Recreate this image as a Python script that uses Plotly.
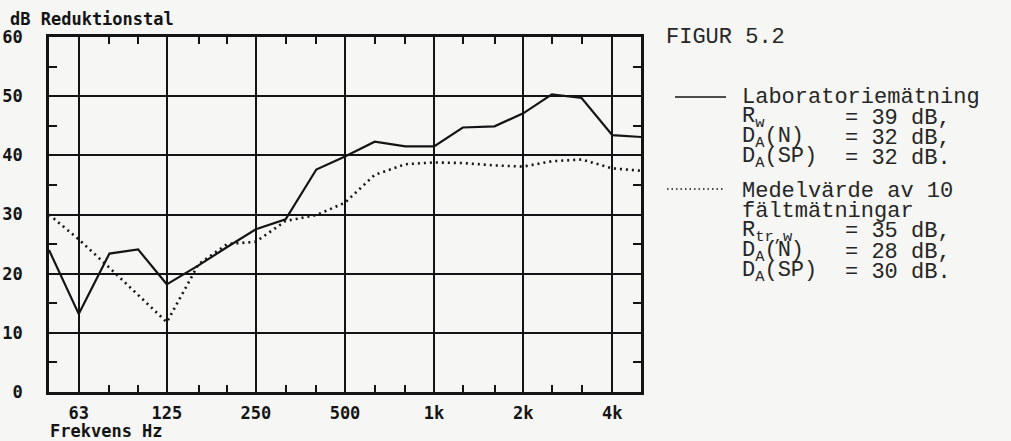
import numpy as np
import plotly.graph_objects as go

# Third-octave band centre frequencies (Hz)
freq_hz = [50, 63, 80, 100, 125, 160, 200, 250, 315, 400, 500,
           630, 800, 1000, 1250, 1600, 2000, 2500, 3150, 4000, 5000]

# Reduktionstal R (dB): laboratory measurement
lab_db = [24.0, 13.2, 23.4, 24.1, 18.2, 21.4, 24.5, 27.5, 29.2, 37.6, 39.8,
          42.3, 41.5, 41.5, 44.7, 44.9, 47.1, 50.3, 49.7, 43.4, 43.1]

# Mean of 10 field measurements (dB)
field_db = [30.0, 25.8, 21.0, 16.4, 11.8, 21.6, 25.0, 25.4, 28.9, 29.9, 32.0,
            36.7, 38.5, 38.8, 38.7, 38.3, 38.1, 39.0, 39.3, 37.8, 37.4]

octave_ticks = [63, 125, 250, 500, 1000, 2000, 4000]
octave_labels = ["63", "125", "250", "500", "1k", "2k", "4k"]
third_ticks = [80, 100, 160, 200, 315, 400, 630, 800, 1250, 1600, 2500, 3150]
db_ticks = [0, 10, 20, 30, 40, 50, 60]
db_half_ticks = [5, 15, 25, 35, 45, 55]

# Legend text blocks (label part, value part)
lab_lines = [("R<sub>w</sub>", "= 39 dB,"),
             ("D<sub>A</sub>(N)", "= 32 dB,"),
             ("D<sub>A</sub>(SP)", "= 32 dB.")]
field_lines = [("R<sub>tr,w</sub>", "= 35 dB,"),
               ("D<sub>A</sub>(N)", "= 28 dB,"),
               ("D<sub>A</sub>(SP)", "= 30 dB.")]

INK = "#141414"
BG = "#f6f6f4"
PLOT_FONT = dict(family="DejaVu Sans Mono", size=17, color=INK, weight="bold")
TYPE_FONT = dict(family="Liberation Mono", size=22, color="#262626")

W, H = 1011, 441
L, R, T, B = 49, 370, 37, 49
PW, PH = W - L - R, H - T - B


def px(xp):
    return (xp - L) / PW


def py(yp):
    return (H - B - yp) / PH


fig = go.Figure()
fig.add_trace(go.Scatter(x=freq_hz, y=lab_db, mode="lines",
                         line=dict(color=INK, width=2.2),
                         name="Laboratoriemätning", hoverinfo="skip"))
fig.add_trace(go.Scatter(x=freq_hz, y=field_db, mode="lines",
                         line=dict(color=INK, width=2.6, dash="2px,4px"),
                         name="Medelvärde av 10 fältmätningar", hoverinfo="skip"))
# carrier for the top/right tick axes
fig.add_trace(go.Scatter(x=[], y=[], xaxis="x2", yaxis="y2", hoverinfo="skip"))

xrange = [np.log10(freq_hz[0]), np.log10(freq_hz[-1])]

fig.update_layout(
    width=W, height=H,
    margin=dict(l=L, r=R, t=T, b=B, pad=0, autoexpand=False),
    paper_bgcolor=BG, plot_bgcolor=BG,
    showlegend=False,
    xaxis=dict(type="log", range=xrange, tickmode="array",
               tickvals=octave_ticks, ticktext=octave_labels,
               ticks="", ticklabelstandoff=4, tickfont=PLOT_FONT,
               automargin=False,
               showgrid=True, gridcolor=INK, gridwidth=1.8,
               showline=True, mirror=True, linecolor=INK, linewidth=2.5,
               zeroline=False,
               minor=dict(tickmode="array", tickvals=third_ticks,
                          ticks="inside", ticklen=7, tickwidth=2,
                          tickcolor=INK, showgrid=False)),
    yaxis=dict(range=[0, 60], tickmode="array", tickvals=db_ticks,
               ticks="", ticklabelstandoff=20, tickfont=PLOT_FONT,
               automargin=False,
               showgrid=True, gridcolor=INK, gridwidth=1.8,
               showline=True, mirror=True, linecolor=INK, linewidth=2.5,
               zeroline=False,
               minor=dict(tickmode="array", tickvals=db_half_ticks,
                          ticks="inside", ticklen=8, tickwidth=2,
                          tickcolor=INK, showgrid=False)),
    xaxis2=dict(type="log", range=xrange, overlaying="x", side="top",
                anchor="y2", tickmode="array", tickvals=third_ticks,
                ticks="inside", ticklen=7, tickwidth=2, tickcolor=INK,
                showticklabels=False, showgrid=False, showline=False,
                zeroline=False, automargin=False),
    yaxis2=dict(range=[0, 60], overlaying="y", side="right", anchor="x2",
                tickmode="array", tickvals=db_half_ticks,
                ticks="inside", ticklen=8, tickwidth=2, tickcolor=INK,
                showticklabels=False, showgrid=False, showline=False,
                zeroline=False, automargin=False),
)

ann = []
# axis titles in plotter lettering
ann.append(dict(text="dB Reduktionstal", x=px(8), y=py(19), xref="paper",
                yref="paper", xanchor="left", yanchor="middle",
                showarrow=False, font=PLOT_FONT))
ann.append(dict(text="Frekvens Hz", x=px(48), y=py(431), xref="paper",
                yref="paper", xanchor="left", yanchor="middle",
                showarrow=False, font=PLOT_FONT))

# typewritten key
COL0 = 740
EQ_COL = 843
ann.append(dict(text="FIGUR 5.2", x=px(664), y=py(37), xref="paper",
                yref="paper", xanchor="left", yanchor="middle",
                showarrow=False, font=TYPE_FONT))
ann.append(dict(text="Laboratoriemätning", x=px(COL0), y=py(97),
                xref="paper", yref="paper", xanchor="left",
                yanchor="middle", showarrow=False, font=TYPE_FONT))
for i, (lbl, val) in enumerate(lab_lines):
    yc = 118 + 20 * i
    ann.append(dict(text=lbl, x=px(COL0), y=py(yc), xref="paper",
                    yref="paper", xanchor="left", yanchor="middle",
                    showarrow=False, font=TYPE_FONT))
    ann.append(dict(text=val, x=px(EQ_COL), y=py(yc), xref="paper",
                    yref="paper", xanchor="left", yanchor="middle",
                    showarrow=False, font=TYPE_FONT))

ann.append(dict(text="Medelvärde av 10", x=px(COL0), y=py(191),
                xref="paper", yref="paper", xanchor="left",
                yanchor="middle", showarrow=False, font=TYPE_FONT))
ann.append(dict(text="fältmätningar", x=px(COL0), y=py(211),
                xref="paper", yref="paper", xanchor="left",
                yanchor="middle", showarrow=False, font=TYPE_FONT))
for i, (lbl, val) in enumerate(field_lines):
    yc = 232 + 20 * i
    ann.append(dict(text=lbl, x=px(COL0), y=py(yc), xref="paper",
                    yref="paper", xanchor="left", yanchor="middle",
                    showarrow=False, font=TYPE_FONT))
    ann.append(dict(text=val, x=px(EQ_COL), y=py(yc), xref="paper",
                    yref="paper", xanchor="left", yanchor="middle",
                    showarrow=False, font=TYPE_FONT))
fig.update_layout(annotations=ann)

# key samples for the two line styles
fig.add_shape(type="line", xref="paper", yref="paper",
              x0=px(675), x1=px(726), y0=py(97), y1=py(97),
              line=dict(color=INK, width=1.6))
fig.add_shape(type="line", xref="paper", yref="paper",
              x0=px(667), x1=px(725), y0=py(189), y1=py(189),
              line=dict(color=INK, width=1.6, dash="1.5px,3px"))

fig.write_html("out.html")
